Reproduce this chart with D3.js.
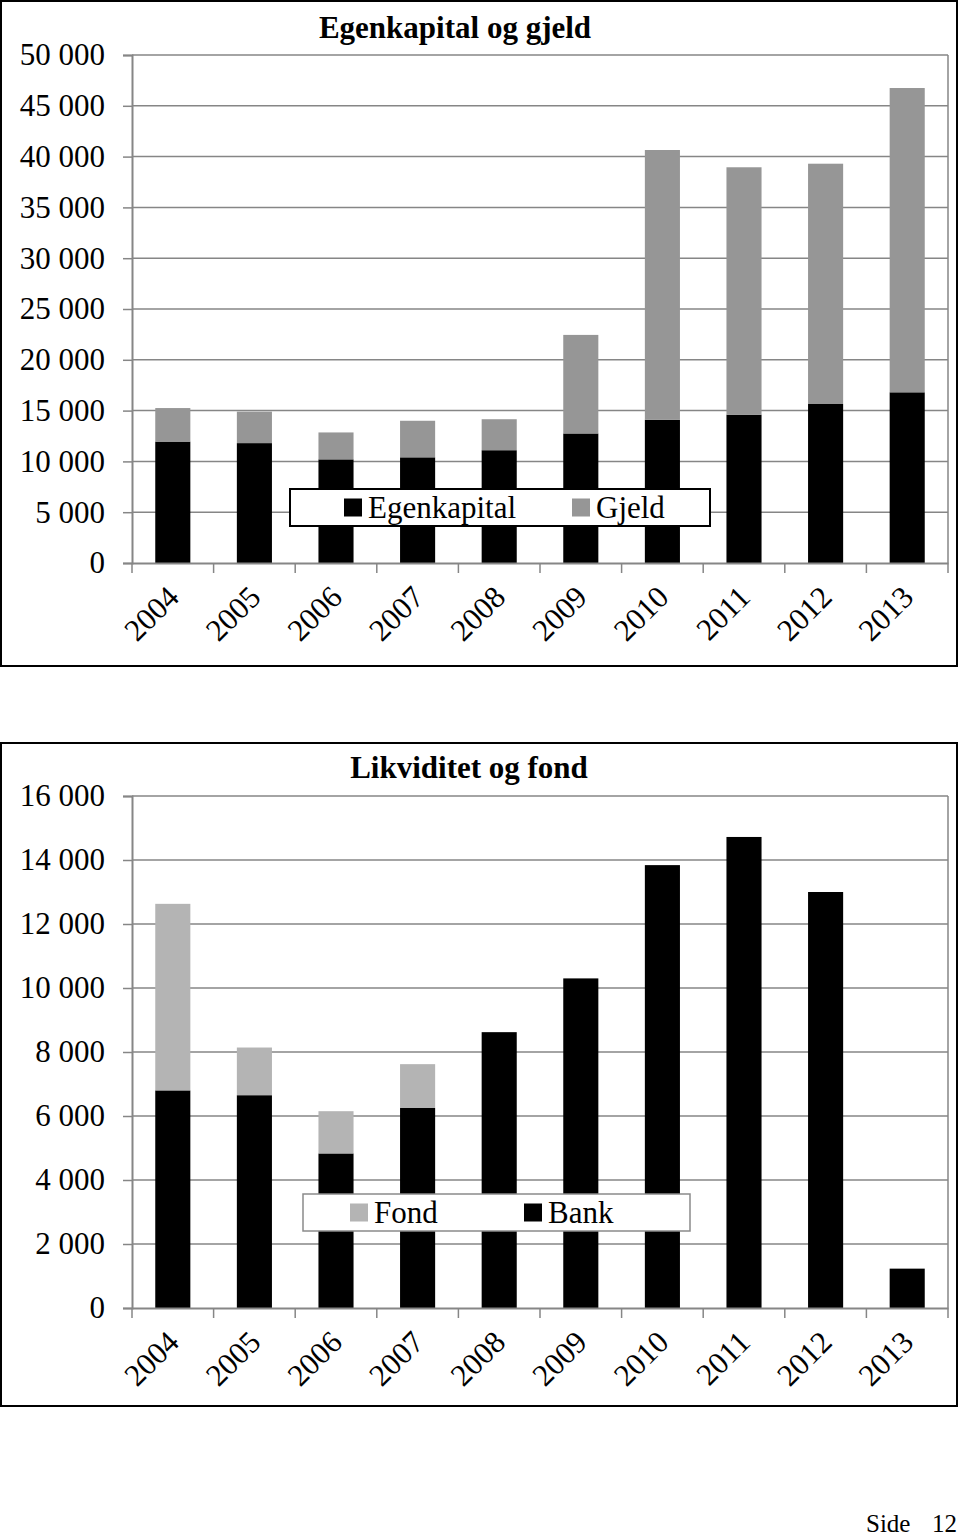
<!DOCTYPE html>
<html><head><meta charset="utf-8">
<script src="https://cdn.jsdelivr.net/npm/d3@7"></script>
<style>
body{margin:0;background:#fff}
svg{display:block}
text{font-family:"Liberation Serif","Times New Roman",serif;fill:#000}
</style>
</head><body>
<svg id="c" width="960" height="1536"></svg>
<script>
// ---------- data ----------
const years = ["2004","2005","2006","2007","2008","2009","2010","2011","2012","2013"];
const egenkapital = [11950, 11800, 10200, 10400, 11100, 12750, 14100, 14600, 15650, 16800];
const gjeld       = [3300, 3100, 2650, 3600, 3050, 9700, 26550, 24350, 23650, 29950];
const bank = [6800, 6650, 4830, 6250, 8620, 10300, 13840, 14720, 13000, 1230];
const fond = [5830, 1490, 1320, 1370, 0, 0, 0, 0, 0, 0];
const ticks1 = [0, 5000, 10000, 15000, 20000, 25000, 30000, 35000, 40000, 45000, 50000];
const ticks2 = [0, 2000, 4000, 6000, 8000, 10000, 12000, 14000, 16000];

const locale = d3.formatLocale({decimal: ",", thousands: "\u00a0", grouping: [3], currency: ["", ""]});
const fmt = v => v === 0 ? "0" : locale.format(",")(v);

const svg = d3.select("#c");
const SERIF = "'Liberation Serif','Times New Roman',serif";

function drawChart(o) {
  const g = svg.append("g");
  // outer frame
  g.append("rect").attr("x", o.frame[0]).attr("y", o.frame[1])
    .attr("width", o.frame[2] - o.frame[0]).attr("height", o.frame[3] - o.frame[1])
    .attr("fill", "#fff").attr("stroke", "#000").attr("stroke-width", 2);

  const x = d3.scaleBand().domain(years).range([o.left, o.right]).paddingInner(0.57).paddingOuter(0.285);
  const xb = d3.scaleBand().domain(years).range([o.left, o.right]).padding(0);
  const y = d3.scaleLinear().domain([0, o.max]).range([o.bottom, o.top]);

  // gridlines
  g.append("g").selectAll("line").data(o.ticks.filter(t => t > 0)).join("line")
    .attr("x1", o.left).attr("x2", o.right)
    .attr("y1", d => y(d)).attr("y2", d => y(d))
    .attr("stroke", "#868686").attr("stroke-width", 1.5);
  // right border of plot
  g.append("line").attr("x1", o.right).attr("x2", o.right).attr("y1", o.top).attr("y2", o.bottom)
    .attr("stroke", "#868686").attr("stroke-width", 1.5);

  // stacked bars
  const stackData = years.map((yr, i) => ({year: yr, a: o.s1[i], b: o.s2[i]}));
  g.append("g").selectAll("rect").data(stackData).join("rect")
    .attr("x", d => x(d.year)).attr("width", x.bandwidth())
    .attr("y", d => y(d.a)).attr("height", d => y(0) - y(d.a))
    .attr("fill", o.c1);
  g.append("g").selectAll("rect").data(stackData.filter(d => d.b > 0)).join("rect")
    .attr("x", d => x(d.year)).attr("width", x.bandwidth())
    .attr("y", d => y(d.a + d.b)).attr("height", d => y(d.a) - y(d.a + d.b))
    .attr("fill", o.c2);

  // y axis
  const ya = d3.axisLeft(y).tickValues(o.ticks).tickFormat(fmt).tickSize(9).tickPadding(18);
  const yg = g.append("g").attr("transform", `translate(${o.left},0)`).call(ya)
    .attr("font-family", SERIF).attr("font-size", 31);
  yg.select(".domain").attr("stroke", "#868686").attr("stroke-width", 2);
  yg.selectAll(".tick line").attr("stroke", "#868686").attr("stroke-width", 1.5);
  yg.selectAll(".tick text").attr("fill", "#000");

  // x axis
  const xa = d3.axisBottom(xb).tickSize(0).tickFormat("");
  const xg = g.append("g").attr("transform", `translate(0,${o.bottom})`).call(xa);
  xg.select(".domain").attr("stroke", "#868686").attr("stroke-width", 2);
  const bounds = years.map(yr => xb(yr)).concat([o.right]);
  g.append("g").selectAll("line").data(bounds).join("line")
    .attr("x1", d => d).attr("x2", d => d).attr("y1", o.bottom).attr("y2", o.bottom + 10)
    .attr("stroke", "#868686").attr("stroke-width", 1.5);
  g.append("g").attr("font-family", SERIF).selectAll("text").data(years).join("text")
    .attr("transform", d => `translate(${xb(d) + xb.bandwidth() / 2 + 8},${o.bottom + 36}) rotate(-45)`)
    .attr("text-anchor", "end").attr("font-size", 31).text(d => d);

  // title
  g.append("text").attr("x", o.titleX).attr("y", o.titleY).attr("text-anchor", "middle")
    .attr("font-family", SERIF).attr("font-size", 31).attr("font-weight", "bold").text(o.title);

  // legend
  const L = o.legend;
  g.append("rect").attr("x", L.x).attr("y", L.y).attr("width", L.w).attr("height", L.h)
    .attr("fill", "#fff").attr("stroke", L.stroke).attr("stroke-width", L.sw);
  L.items.forEach(it => {
    g.append("rect").attr("x", it.sx).attr("y", L.y + (L.h - 18) / 2).attr("width", 18).attr("height", 18)
      .attr("fill", it.color);
    g.append("text").attr("x", it.sx + 24).attr("y", L.y + L.h / 2 + 10)
      .attr("font-family", SERIF).attr("font-size", 31).text(it.label);
  });
}

drawChart({
  frame: [1, 1, 957, 666],
  left: 132, right: 948, top: 55, bottom: 563, max: 50000, ticks: ticks1,
  s1: egenkapital, s2: gjeld, c1: "#000", c2: "#969696",
  title: "Egenkapital og gjeld", titleX: 455, titleY: 38,
  legend: {x: 290, y: 489, w: 420, h: 37, stroke: "#000", sw: 2,
    items: [{sx: 344, color: "#000", label: "Egenkapital"}, {sx: 572, color: "#969696", label: "Gjeld"}]}
});

drawChart({
  frame: [1, 743, 957, 1406],
  left: 132, right: 948, top: 796, bottom: 1308, max: 16000, ticks: ticks2,
  s1: bank, s2: fond, c1: "#000", c2: "#b4b4b4",
  title: "Likviditet og fond", titleX: 469, titleY: 778,
  legend: {x: 303, y: 1194, w: 387, h: 37, stroke: "#8a8a8a", sw: 1.5,
    items: [{sx: 350, color: "#b4b4b4", label: "Fond"}, {sx: 524, color: "#000", label: "Bank"}]}
});

// footer
svg.append("text").attr("x", 866).attr("y", 1532).attr("font-family", SERIF).attr("font-size", 25).text("Side");
svg.append("text").attr("x", 932).attr("y", 1532).attr("font-family", SERIF).attr("font-size", 25).text("12");
</script>
</body></html>
